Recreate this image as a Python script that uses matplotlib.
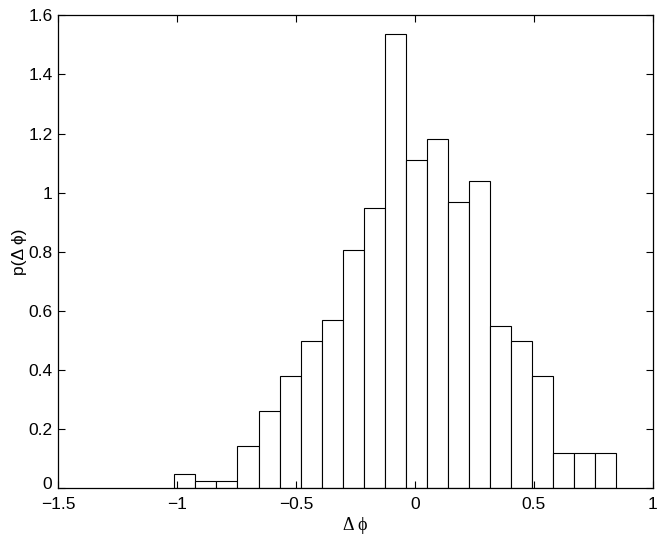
import matplotlib
matplotlib.use("Agg")
import matplotlib.pyplot as plt
import matplotlib.transforms as mtrans
import numpy as np

# histogram bins (left edge of first bin, common width) and densities
first_edge = -1.011
bin_width = 0.0884
density = [0.047, 0.024, 0.024, 0.142, 0.260, 0.379, 0.497, 0.568, 0.805, 0.947,
           1.538, 1.112, 1.183, 0.970, 1.041, 0.548, 0.497, 0.379, 0.118, 0.118, 0.118]

xticks = [-1.5, -1, -0.5, 0, 0.5, 1]
xticklabels = ["\u22121.5", "\u22121", "\u22120.5", "0", "0.5", "1"]
yticks = [0, 0.2, 0.4, 0.6, 0.8, 1, 1.2, 1.4, 1.6]
yticklabels = ["0", "0.2", "0.4", "0.6", "0.8", "1", "1.2", "1.4", "1.6"]

plt.rcParams['font.family'] = ['Liberation Sans', 'DejaVu Sans']

fig = plt.figure(figsize=(6.64, 5.34), dpi=100)
ax = fig.add_axes([0.0873, 0.0856, 0.8961, 0.8857])

lefts = first_edge + bin_width * np.arange(len(density))
ax.bar(lefts, density, width=bin_width, align='edge',
       facecolor='white', edgecolor='black', linewidth=0.8)

ax.set_xlim(-1.5, 1)
ax.set_ylim(0, 1.6)
ax.set_xticks(xticks)
ax.set_xticklabels(xticklabels)
ax.set_yticks(yticks)
ax.set_yticklabels(yticklabels)
ax.tick_params(direction='in', top=True, right=True, length=5, width=0.8,
               labelsize=12.5)
ax.tick_params(axis='x', pad=6)
ax.tick_params(axis='y', pad=4)
for s in ax.spines.values():
    s.set_linewidth(0.9)

# lift the "0" on the y axis a little, as in the original
lbl0 = ax.get_yticklabels()[0]
lbl0.set_transform(lbl0.get_transform() +
                   mtrans.ScaledTranslation(0, 4 / 72, fig.dpi_scale_trans))

ax.set_xlabel("\u0394 \u03d5", family=['Liberation Serif', 'DejaVu Serif'],
              fontsize=13, labelpad=4)
ax.set_ylabel("p(\u0394 \u03d5)", fontsize=12.5, labelpad=1)

fig.savefig("out.png", dpi=100)
